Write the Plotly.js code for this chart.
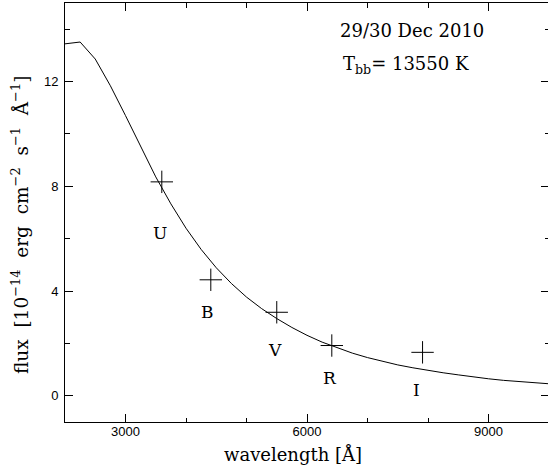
<!DOCTYPE html>
<html>
<head>
<meta charset="utf-8">
<script src="https://cdn.plot.ly/plotly-3.0.1.min.js"></script>
<style>
html,body{margin:0;padding:0;overflow:hidden;background:#fff;}
#chart{width:549px;height:465px;}
</style>
</head>
<body>
<div id="chart"></div>
<script>
// Blackbody model curve
var modelWave = [2000,2250,2500,2750,3000,3250,3500,3750,4000,4250,4500,4750,5000,5250,5500,5750,6000,6250,6500,6750,7000,7250,7500,7750,8000,8250,8500,8750,9000,9250,9500,9750,10000];
var modelFlux = [13.44,13.51,12.86,11.84,10.70,9.50,8.36,7.33,6.40,5.59,4.89,4.29,3.77,3.33,2.95,2.61,2.31,2.05,1.83,1.63,1.46,1.31,1.18,1.07,0.97,0.88,0.80,0.72,0.65,0.59,0.54,0.50,0.46];

// Photometric points
var bands    = ["U","B","V","R","I"];
var bandWave = [3600,4410,5500,6410,7910];
var bandFlux = [8.17,4.43,3.19,1.92,1.66];

// Tick labels
var xTicks = [3000,6000,9000];
var xMinor = [4000,5000,7000,8000];
var yTicks = [0,4,8,12];
var yMinor = [2,6,10,14];

// label offsets (px) for band letters
var labelDx = [-2,-3,-2,-2,-6];
var labelDy = [-51,-32,-38,-32,-38];

var serif = "DejaVu Serif";
var sans = "Liberation Sans, Arial, sans-serif";
var sp = "\u00A0\u00A0";

var traces = [
  {x: modelWave, y: modelFlux, type:"scatter", mode:"lines",
   line:{color:"#000", width:1}, hoverinfo:"skip", showlegend:false},
  {x: bandWave, y: bandFlux, type:"scatter", mode:"markers",
   marker:{symbol:"cross-thin-open", size:16, color:"#000", line:{color:"#000", width:1}},
   showlegend:false}
];

var annotations = bands.map(function(b,i){
  return {x: bandWave[i], y: bandFlux[i], xref:"x", yref:"y", text:b, showarrow:false,
          xshift: labelDx[i], yshift: labelDy[i], font:{family:serif, size:17, color:"#000"}};
});
annotations.push({xref:"paper", yref:"paper", x:0.716, y:0.934, text:"29/30 Dec 2010",
  showarrow:false, xanchor:"center", yanchor:"middle", font:{family:serif, size:18, color:"#000"}});
annotations.push({xref:"paper", yref:"paper", x:0.705, y:0.852, text:"T<sub>bb</sub>= 13550 K",
  showarrow:false, xanchor:"center", yanchor:"middle", font:{family:serif, size:18, color:"#000"}});
annotations.push({xref:"paper", yref:"paper", x:0.472, y:-0.078, text:"wavelength [Å]",
  showarrow:false, xanchor:"center", yanchor:"middle", font:{family:serif, size:18, color:"#000"}});
annotations.push({xref:"paper", yref:"paper", x:-0.093, y:0.47, textangle:-90,
  text:"flux" + sp + "[10<sup>−14</sup>" + sp + "erg" + sp + "cm<sup>−2</sup>" + sp + "s<sup>−1</sup>" + sp + "Å<sup>−1</sup>]",
  showarrow:false, xanchor:"center", yanchor:"middle", font:{family:serif, size:18.5, color:"#000"}});

var axisCommon = {
  showgrid:false, zeroline:false, showline:true, linecolor:"#000", linewidth:1,
  mirror:"ticks", ticks:"inside", ticklen:8, tickwidth:1, tickcolor:"#000",
  tickfont:{family:sans, size:13, color:"#000"}
};

var layout = {
  width:549, height:465,
  margin:{l:65, r:0, t:3, b:43},
  paper_bgcolor:"#fff", plot_bgcolor:"#fff",
  showlegend:false,
  xaxis: Object.assign({}, axisCommon, {
    range:[2000,10000], tickmode:"array", tickvals:xTicks, ticktext:xTicks.map(String),
    ticklabelstandoff:-3,
    minor:{tickmode:"array", tickvals:xMinor, ticks:"inside", ticklen:4.5, tickwidth:1, tickcolor:"#000"}
  }),
  yaxis: Object.assign({}, axisCommon, {
    range:[-1,15], tickmode:"array", tickvals:yTicks, ticktext:yTicks.map(String),
    ticklabelstandoff:3,
    minor:{tickmode:"array", tickvals:yMinor, ticks:"inside", ticklen:4.5, tickwidth:1, tickcolor:"#000"}
  }),
  annotations: annotations
};

Plotly.newPlot("chart", traces, layout, {displayModeBar:false, staticPlot:true});
</script>
</body>
</html>
